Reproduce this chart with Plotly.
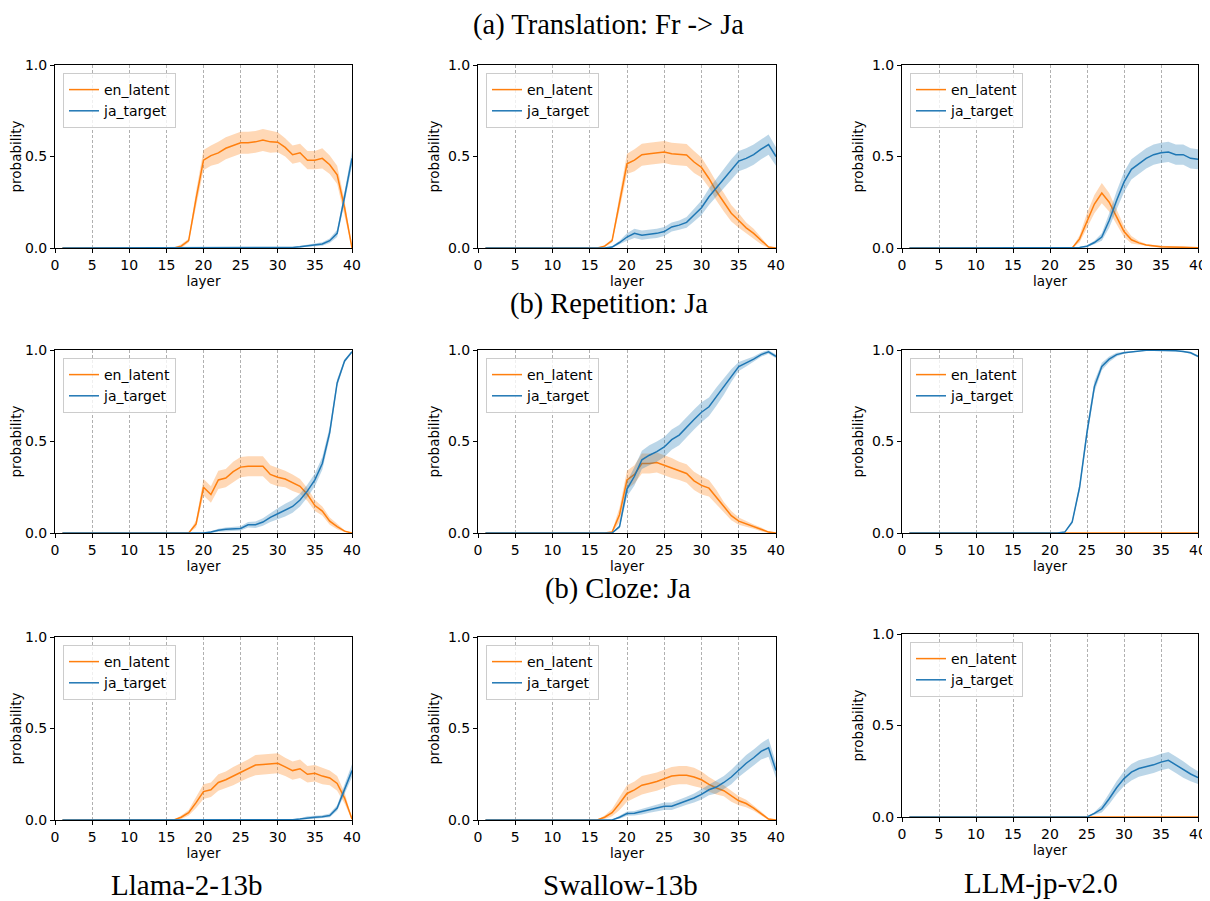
import plotly.graph_objects as go

LAYERS = list(range(1, 41))
X_TICKS = [0, 5, 10, 15, 20, 25, 30, 35, 40]
Y_TICKS = [0.0, 0.5, 1.0]
Y_TICK_TEXT = ["0.0", "0.5", "1.0"]
SERIES_NAMES = ["en_latent", "ja_target"]
SECTION_TITLES = ["(a) Translation: Fr -> Ja", "(b) Repetition: Ja", "(b) Cloze: Ja"]
MODEL_NAMES = ["Llama-2-13b", "Swallow-13b", "LLM-jp-v2.0"]

# ---- Translation: Fr -> Ja ----
llama_tr_en = [0,0,0,0,0,0,0,0,0,0,0,0,0,0,0, 0.0,0.01,0.04,0.27,0.48, 0.505,0.52,0.545,0.56,0.575, 0.575,0.58,0.59,0.58,0.578, 0.55,0.51,0.52,0.48,0.48, 0.49,0.455,0.40,0.22,0.0]
llama_tr_en_err = [0,0,0,0,0,0,0,0,0,0,0,0,0,0,0, 0.0,0.01,0.01,0.04,0.055, 0.055,0.06,0.06,0.06,0.06, 0.06,0.06,0.06,0.06,0.055, 0.05,0.05,0.05,0.05,0.05, 0.055,0.05,0.05,0.04,0.0]
llama_tr_ja = [0,0,0,0,0,0,0,0,0,0,0,0,0,0,0,0,0,0,0,0,0,0,0,0,0,0,0,0,0,0, 0.001,0.003,0.007,0.013,0.018, 0.022,0.04,0.08,0.28,0.49]
llama_tr_ja_err = [0,0,0,0,0,0,0,0,0,0,0,0,0,0,0,0,0,0,0,0,0,0,0,0,0,0,0,0,0,0, 0.001,0.002,0.004,0.006,0.008, 0.01,0.012,0.02,0.03,0.04]

swallow_tr_en = [0,0,0,0,0,0,0,0,0,0,0,0,0,0,0, 0.0,0.01,0.04,0.25,0.46, 0.48,0.51,0.515,0.52,0.525, 0.515,0.512,0.508,0.47,0.44, 0.38,0.31,0.25,0.19,0.15, 0.11,0.08,0.04,0.005,0.0]
swallow_tr_en_err = [0,0,0,0,0,0,0,0,0,0,0,0,0,0,0, 0.0,0.005,0.01,0.04,0.055, 0.06,0.06,0.06,0.06,0.06, 0.06,0.06,0.06,0.06,0.055, 0.05,0.05,0.05,0.045,0.04, 0.03,0.025,0.02,0.005,0.0]
swallow_tr_ja = [0,0,0,0,0,0,0,0,0,0,0,0,0,0,0,0,0, 0.005,0.03,0.06, 0.08,0.07,0.075,0.08,0.09, 0.115,0.125,0.14,0.18,0.22, 0.28,0.33,0.38,0.43,0.475, 0.49,0.51,0.54,0.565,0.50]
swallow_tr_ja_err = [0,0,0,0,0,0,0,0,0,0,0,0,0,0,0,0,0, 0.005,0.01,0.02, 0.025,0.025,0.025,0.025,0.025, 0.025,0.025,0.03,0.035,0.04, 0.045,0.05,0.05,0.055,0.055, 0.055,0.055,0.055,0.055,0.05]

llmjp_tr_en = [0,0,0,0,0,0,0,0,0,0,0,0,0,0,0,0,0,0,0,0,0,0, 0.0,0.05,0.15,0.24,0.30,0.25,0.17,0.09, 0.045,0.028,0.016,0.01,0.007, 0.006,0.006,0.005,0.003,0.001]
llmjp_tr_en_err = [0,0,0,0,0,0,0,0,0,0,0,0,0,0,0,0,0,0,0,0,0,0, 0.0,0.02,0.04,0.05,0.055,0.05,0.04,0.03, 0.02,0.01,0.006,0.005,0.005, 0.005,0.005,0.004,0.003,0.001]
llmjp_tr_ja = [0,0,0,0,0,0,0,0,0,0,0,0,0,0,0,0,0,0,0,0,0,0,0, 0.003,0.01,0.03,0.06,0.15,0.26,0.36, 0.43,0.46,0.49,0.51,0.52, 0.525,0.51,0.51,0.49,0.485]
llmjp_tr_ja_err = [0,0,0,0,0,0,0,0,0,0,0,0,0,0,0,0,0,0,0,0,0,0,0, 0.002,0.005,0.01,0.02,0.04,0.05,0.055, 0.055,0.055,0.055,0.055,0.055, 0.055,0.055,0.055,0.055,0.055]

# ---- Repetition: Ja ----
llama_rep_en = [0,0,0,0,0,0,0,0,0,0,0,0,0,0,0,0,0,0, 0.05,0.25, 0.21,0.29,0.30,0.335,0.36, 0.365,0.365,0.365,0.32,0.305, 0.295,0.275,0.255,0.21,0.15, 0.12,0.065,0.035,0.01,0.0]
llama_rep_en_err = [0,0,0,0,0,0,0,0,0,0,0,0,0,0,0,0,0,0, 0.02,0.045, 0.045,0.05,0.05,0.055,0.055, 0.055,0.055,0.055,0.05,0.05, 0.045,0.045,0.04,0.035,0.03, 0.025,0.02,0.015,0.005,0.0]
llama_rep_ja = [0,0,0,0,0,0,0,0,0,0,0,0,0,0,0,0,0,0,0,0, 0.005,0.015,0.02,0.022,0.025, 0.045,0.045,0.06,0.085,0.105, 0.125,0.145,0.18,0.23,0.29, 0.38,0.55,0.82,0.94,0.99]
llama_rep_ja_err = [0,0,0,0,0,0,0,0,0,0,0,0,0,0,0,0,0,0,0,0, 0.005,0.008,0.01,0.01,0.012, 0.015,0.018,0.02,0.025,0.03, 0.035,0.035,0.035,0.035,0.035, 0.035,0.03,0.02,0.01,0.005]

swallow_rep_en = [0,0,0,0,0,0,0,0,0,0,0,0,0,0,0,0,0, 0.005,0.10,0.29, 0.32,0.38,0.38,0.385,0.37, 0.355,0.34,0.325,0.285,0.26, 0.245,0.195,0.14,0.095,0.065, 0.05,0.035,0.02,0.005,0.0]
swallow_rep_en_err = [0,0,0,0,0,0,0,0,0,0,0,0,0,0,0,0,0, 0.005,0.04,0.05, 0.05,0.055,0.055,0.055,0.055, 0.055,0.05,0.05,0.05,0.05, 0.045,0.04,0.03,0.025,0.02, 0.015,0.012,0.01,0.005,0.0]
swallow_rep_ja = [0,0,0,0,0,0,0,0,0,0,0,0,0,0,0,0,0,0, 0.035,0.24, 0.31,0.40,0.425,0.445,0.47, 0.51,0.535,0.58,0.62,0.66, 0.69,0.745,0.80,0.86,0.91, 0.93,0.95,0.975,0.99,0.965]
swallow_rep_ja_err = [0,0,0,0,0,0,0,0,0,0,0,0,0,0,0,0,0,0, 0.01,0.04, 0.05,0.05,0.055,0.055,0.055, 0.055,0.055,0.055,0.055,0.055, 0.05,0.05,0.045,0.035,0.025, 0.02,0.015,0.012,0.01,0.01]

llmjp_rep_en = [0,0,0,0,0,0,0,0,0,0,0,0,0,0,0,0,0,0,0,0,0,0,0,0,0,0,0,0,0,0,0,0,0,0,0,0,0,0,0,0]
llmjp_rep_en_err = [0,0,0,0,0,0,0,0,0,0,0,0,0,0,0,0,0,0,0,0,0,0,0,0,0,0,0,0,0,0,0,0,0,0,0,0,0,0,0,0]
llmjp_rep_ja = [0,0,0,0,0,0,0,0,0,0,0,0,0,0,0,0,0,0,0,0,0, 0.005,0.06,0.25,0.55,0.80,0.91,0.95,0.975,0.985, 0.99,0.995,0.998,0.998,0.998, 0.998,0.996,0.992,0.985,0.965]
llmjp_rep_ja_err = [0,0,0,0,0,0,0,0,0,0,0,0,0,0,0,0,0,0,0,0,0, 0.003,0.01,0.02,0.03,0.03,0.02,0.015,0.01,0.005, 0.004,0.003,0.002,0.002,0.002, 0.002,0.003,0.004,0.005,0.006]

# ---- Cloze: Ja ----
llama_cloze_en = [0,0,0,0,0,0,0,0,0,0,0,0,0,0,0,0, 0.015,0.04,0.095,0.155, 0.165,0.205,0.22,0.24,0.26, 0.28,0.30,0.303,0.305,0.31, 0.29,0.27,0.28,0.25,0.255, 0.24,0.23,0.20,0.12,0.005]
llama_cloze_en_err = [0,0,0,0,0,0,0,0,0,0,0,0,0,0,0,0, 0.01,0.015,0.03,0.04, 0.04,0.045,0.045,0.05,0.05, 0.05,0.055,0.055,0.055,0.055, 0.05,0.05,0.05,0.045,0.045, 0.045,0.04,0.04,0.03,0.005]
llama_cloze_ja = [0,0,0,0,0,0,0,0,0,0,0,0,0,0,0,0,0,0,0,0,0,0,0,0,0,0,0,0,0,0,0, 0.002,0.005,0.012,0.015,0.018,0.025,0.065,0.17,0.27]
llama_cloze_ja_err = [0,0,0,0,0,0,0,0,0,0,0,0,0,0,0,0,0,0,0,0,0,0,0,0,0,0,0,0,0,0,0, 0.002,0.005,0.008,0.008,0.008,0.01,0.015,0.025,0.035]

swallow_cloze_en = [0,0,0,0,0,0,0,0,0,0,0,0,0,0,0,0, 0.015,0.04,0.09,0.145, 0.165,0.19,0.2,0.21,0.225, 0.24,0.245,0.245,0.235,0.22, 0.195,0.175,0.16,0.13,0.105, 0.09,0.065,0.035,0.005,0.0]
swallow_cloze_en_err = [0,0,0,0,0,0,0,0,0,0,0,0,0,0,0,0, 0.01,0.02,0.035,0.045, 0.045,0.05,0.05,0.05,0.05, 0.05,0.05,0.05,0.05,0.045, 0.04,0.035,0.03,0.03,0.025, 0.02,0.015,0.012,0.005,0.0]
swallow_cloze_ja = [0,0,0,0,0,0,0,0,0,0,0,0,0,0,0,0,0,0, 0.015,0.035, 0.037,0.045,0.055,0.065,0.075, 0.075,0.09,0.105,0.12,0.14, 0.165,0.18,0.205,0.235,0.275, 0.31,0.34,0.375,0.395,0.27]
swallow_cloze_ja_err = [0,0,0,0,0,0,0,0,0,0,0,0,0,0,0,0,0,0, 0.008,0.012, 0.012,0.015,0.015,0.018,0.02, 0.02,0.02,0.022,0.025,0.028, 0.03,0.035,0.035,0.04,0.04, 0.045,0.045,0.045,0.05,0.04]

llmjp_cloze_en = [0,0,0,0,0,0,0,0,0,0,0,0,0,0,0,0,0,0,0,0,0,0,0,0,0,0,0,0,0,0,0,0,0,0,0,0,0,0,0,0]
llmjp_cloze_en_err = [0,0,0,0,0,0,0,0,0,0,0,0,0,0,0,0,0,0,0,0,0,0,0,0,0, 0.002,0.003,0.003,0.003,0.003,0.002,0.001,0.001,0.001,0.001,0.001,0.001,0.001,0.001,0.001]
llmjp_cloze_ja = [0,0,0,0,0,0,0,0,0,0,0,0,0,0,0,0,0,0,0,0,0,0,0,0,0, 0.02,0.045,0.10,0.16,0.21, 0.245,0.265,0.275,0.285,0.30, 0.31,0.285,0.26,0.235,0.215]
llmjp_cloze_ja_err = [0,0,0,0,0,0,0,0,0,0,0,0,0,0,0,0,0,0,0,0,0,0,0,0,0, 0.008,0.02,0.03,0.035,0.04, 0.045,0.045,0.045,0.045,0.045, 0.045,0.045,0.045,0.04,0.035]

PANELS = [
    [(llama_tr_en, llama_tr_en_err, llama_tr_ja, llama_tr_ja_err),
     (swallow_tr_en, swallow_tr_en_err, swallow_tr_ja, swallow_tr_ja_err),
     (llmjp_tr_en, llmjp_tr_en_err, llmjp_tr_ja, llmjp_tr_ja_err)],
    [(llama_rep_en, llama_rep_en_err, llama_rep_ja, llama_rep_ja_err),
     (swallow_rep_en, swallow_rep_en_err, swallow_rep_ja, swallow_rep_ja_err),
     (llmjp_rep_en, llmjp_rep_en_err, llmjp_rep_ja, llmjp_rep_ja_err)],
    [(llama_cloze_en, llama_cloze_en_err, llama_cloze_ja, llama_cloze_ja_err),
     (swallow_cloze_en, swallow_cloze_en_err, swallow_cloze_ja, swallow_cloze_ja_err),
     (llmjp_cloze_en, llmjp_cloze_en_err, llmjp_cloze_ja, llmjp_cloze_ja_err)],
]

# ---- layout geometry (window pixels; page body has an 8px margin) ----
OFF = 8
FW, FH = 1210 - OFF, 901 - OFF
COL_X = [(55, 352), (478, 776), (902, 1198)]
ROW_Y = [[(65, 248), (65, 248), (65, 248)],
         [(350, 533), (350, 533), (350, 533)],
         [(637, 820), (637, 820), (634, 817)]]
ORANGE = "#ff7f0e"
BLUE = "#1f77b4"
BAND = {ORANGE: "rgba(255,127,14,0.3)", BLUE: "rgba(31,119,180,0.3)"}
SANS = "DejaVu Sans"
SERIF = "Liberation Serif"


def px(x):
    return (x - OFF) / FW


def py(y):
    return 1 - (y - OFF) / FH


fig = go.Figure()
layout = dict(width=FW, height=FH, margin=dict(l=0, r=0, t=0, b=0, autoexpand=False),
              paper_bgcolor="white", plot_bgcolor="white", showlegend=True)
annotations = []

idx = 0
for r in range(3):
    for c in range(3):
        idx += 1
        sfx = "" if idx == 1 else str(idx)
        xa, ya = "x" + sfx, "y" + sfx
        legname = "legend" + sfx
        x0, x1 = COL_X[c]
        y0, y1 = ROW_Y[r][c]
        layout["xaxis" + sfx] = dict(
            domain=[px(x0), px(x1)], anchor=ya, range=[0, 40], automargin=False,
            tickvals=X_TICKS, ticks="outside", ticklen=4, tickcolor="black",
            showline=True, mirror=True, linecolor="black", linewidth=1,
            showgrid=True, gridcolor="#b0b0b0", griddash="3px,2px", gridwidth=0.8,
            zeroline=False, layer="below traces",
            tickfont=dict(family=SANS, size=14, color="black"),
            title=dict(text="layer", standoff=1, font=dict(family=SANS, size=13.5, color="black")),
        )
        layout["yaxis" + sfx] = dict(
            domain=[py(y1), py(y0)], anchor=xa, range=[0, 1], automargin=False,
            tickvals=Y_TICKS, ticktext=Y_TICK_TEXT, ticks="outside", ticklen=4,
            tickcolor="black", showline=True, mirror=True, linecolor="black",
            linewidth=1, showgrid=False, zeroline=False, layer="below traces",
            tickfont=dict(family=SANS, size=14, color="black"),
            title=dict(text="probability", standoff=5, font=dict(family=SANS, size=13.5, color="black")),
        )
        layout[legname] = dict(
            x=px(x0 + 8), y=py(y0 + 8), xanchor="left", yanchor="top",
            xref="paper", yref="paper", traceorder="normal",
            bgcolor="rgba(255,255,255,0.8)", bordercolor="#cccccc", borderwidth=1,
            font=dict(family=SANS, size=14, color="black"),
            tracegroupgap=0, itemwidth=30,
        )
        en, en_err, ja, ja_err = PANELS[r][c]
        for name, vals, errs, col in [(SERIES_NAMES[0], en, en_err, ORANGE),
                                      (SERIES_NAMES[1], ja, ja_err, BLUE)]:
            upper = [v + e for v, e in zip(vals, errs)]
            lower = [v - e for v, e in zip(vals, errs)]
            fig.add_trace(go.Scatter(x=LAYERS, y=upper, mode="lines",
                                     line=dict(width=0, color=col), xaxis=xa, yaxis=ya,
                                     showlegend=False, hoverinfo="skip", legend=legname))
            fig.add_trace(go.Scatter(x=LAYERS, y=lower, mode="lines",
                                     line=dict(width=0, color=col), fill="tonexty",
                                     fillcolor=BAND[col], xaxis=xa, yaxis=ya,
                                     showlegend=False, hoverinfo="skip", legend=legname))
            fig.add_trace(go.Scatter(x=LAYERS, y=vals, mode="lines", name=name,
                                     line=dict(width=1.5, color=col), xaxis=xa, yaxis=ya,
                                     legend=legname, showlegend=True))

# first title is anchored to the top edge so its box stays inside the figure
TITLE_POS = [(608, 8, "top"), (609, 304, "middle"), (618, 589, "middle")]
for t, (tx, ty, anc) in zip(SECTION_TITLES, TITLE_POS):
    annotations.append(dict(text=t, x=px(tx), y=py(ty), xref="paper", yref="paper",
                            showarrow=False, xanchor="center", yanchor=anc, borderpad=0,
                            font=dict(family=SERIF, size=28.5, color="black")))
MODEL_X = [186, 620, 1041]
MODEL_Y = [885, 885, 883]
for m, mx, my in zip(MODEL_NAMES, MODEL_X, MODEL_Y):
    annotations.append(dict(text=m, x=px(mx), y=py(my), xref="paper", yref="paper",
                            showarrow=False, xanchor="center", yanchor="middle", borderpad=0,
                            font=dict(family=SERIF, size=29, color="black")))
layout["annotations"] = annotations
fig.update_layout(**layout)
fig.write_html("out.html")
